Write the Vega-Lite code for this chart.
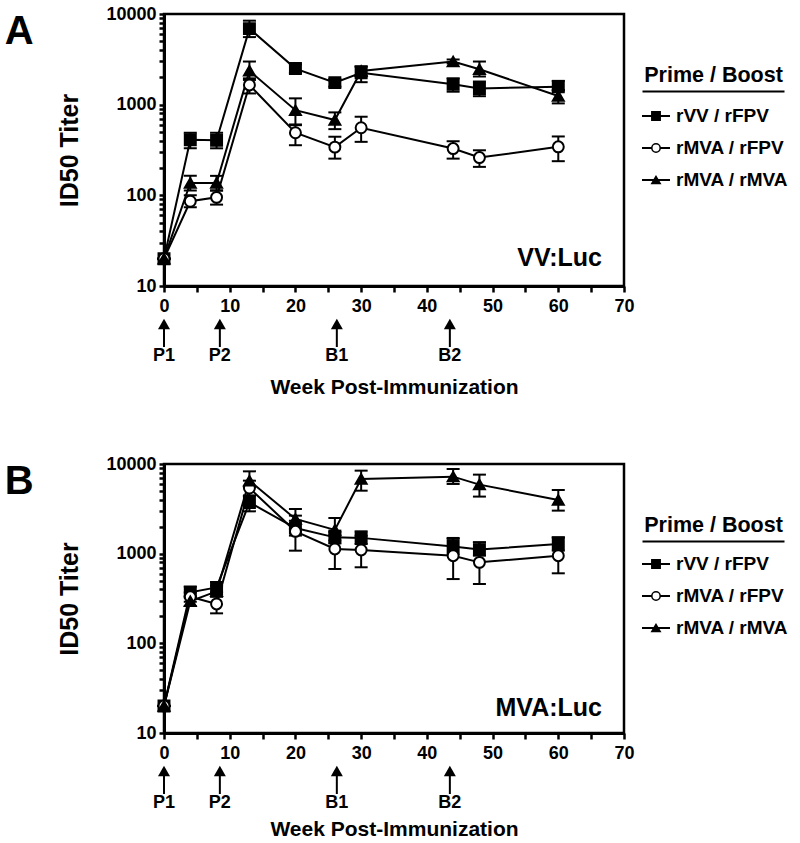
{
  "$schema": "https://vega.github.io/schema/vega-lite/v6.json",
  "background": "white",
  "padding": {"left": 4, "top": 3, "right": 0, "bottom": 0},
  "datasets": {
    "A": [
      {"series": "rVV / rFPV", "week": 0, "titer": 20, "lo": 20, "hi": 20},
      {"series": "rVV / rFPV", "week": 4, "titer": 410, "lo": 330, "hi": 490},
      {"series": "rVV / rFPV", "week": 8, "titer": 405, "lo": 330, "hi": 490},
      {"series": "rVV / rFPV", "week": 13, "titer": 6900, "lo": 5560, "hi": 8440},
      {"series": "rVV / rFPV", "week": 20, "titer": 2500, "lo": 2240, "hi": 2790},
      {"series": "rVV / rFPV", "week": 26, "titer": 1750, "lo": 1580, "hi": 1920},
      {"series": "rVV / rFPV", "week": 30, "titer": 2250, "lo": 1770, "hi": 2630},
      {"series": "rVV / rFPV", "week": 44, "titer": 1680, "lo": 1390, "hi": 1950},
      {"series": "rVV / rFPV", "week": 48, "titer": 1510, "lo": 1240, "hi": 1800},
      {"series": "rVV / rFPV", "week": 60, "titer": 1580, "lo": 1430, "hi": 1830},
      {"series": "rMVA / rFPV", "week": 0, "titer": 20, "lo": 20, "hi": 20},
      {"series": "rMVA / rFPV", "week": 4, "titer": 86, "lo": 74, "hi": 100},
      {"series": "rMVA / rFPV", "week": 8, "titer": 95, "lo": 79, "hi": 113},
      {"series": "rMVA / rFPV", "week": 13, "titer": 1650, "lo": 1330, "hi": 1950},
      {"series": "rMVA / rFPV", "week": 20, "titer": 490, "lo": 357, "hi": 605},
      {"series": "rMVA / rFPV", "week": 26, "titer": 340, "lo": 254, "hi": 443},
      {"series": "rMVA / rFPV", "week": 30, "titer": 556, "lo": 389, "hi": 736},
      {"series": "rMVA / rFPV", "week": 44, "titer": 328, "lo": 254, "hi": 395},
      {"series": "rMVA / rFPV", "week": 48, "titer": 261, "lo": 206, "hi": 314},
      {"series": "rMVA / rFPV", "week": 60, "titer": 343, "lo": 238, "hi": 446},
      {"series": "rMVA / rMVA", "week": 0, "titer": 20, "lo": 20, "hi": 20},
      {"series": "rMVA / rMVA", "week": 4, "titer": 137, "lo": 113, "hi": 164},
      {"series": "rMVA / rMVA", "week": 8, "titer": 137, "lo": 113, "hi": 164},
      {"series": "rMVA / rMVA", "week": 13, "titer": 2360, "lo": 1875, "hi": 2990},
      {"series": "rMVA / rMVA", "week": 20, "titer": 870, "lo": 594, "hi": 1174},
      {"series": "rMVA / rMVA", "week": 26, "titer": 677, "lo": 537, "hi": 822},
      {"series": "rMVA / rMVA", "week": 30, "titer": 2350, "lo": 2050, "hi": 2650},
      {"series": "rMVA / rMVA", "week": 44, "titer": 2990, "lo": 2850, "hi": 3150},
      {"series": "rMVA / rMVA", "week": 48, "titer": 2455, "lo": 2045, "hi": 2990},
      {"series": "rMVA / rMVA", "week": 60, "titer": 1245, "lo": 1033, "hi": 1450}
    ],
    "B": [
      {"series": "rVV / rFPV", "week": 0, "titer": 20, "lo": 20, "hi": 20},
      {"series": "rVV / rFPV", "week": 4, "titer": 370, "lo": 330, "hi": 430},
      {"series": "rVV / rFPV", "week": 8, "titer": 420, "lo": 370, "hi": 480},
      {"series": "rVV / rFPV", "week": 13, "titer": 3730, "lo": 2965, "hi": 4440},
      {"series": "rVV / rFPV", "week": 20, "titer": 1930, "lo": 1590, "hi": 2330},
      {"series": "rVV / rFPV", "week": 26, "titer": 1520, "lo": 1300, "hi": 1730},
      {"series": "rVV / rFPV", "week": 30, "titer": 1500, "lo": 1280, "hi": 1775},
      {"series": "rVV / rFPV", "week": 44, "titer": 1200, "lo": 990, "hi": 1460},
      {"series": "rVV / rFPV", "week": 48, "titer": 1110, "lo": 950, "hi": 1340},
      {"series": "rVV / rFPV", "week": 60, "titer": 1280, "lo": 1080, "hi": 1520},
      {"series": "rMVA / rFPV", "week": 0, "titer": 20, "lo": 20, "hi": 20},
      {"series": "rMVA / rFPV", "week": 4, "titer": 330, "lo": 290, "hi": 370},
      {"series": "rMVA / rFPV", "week": 8, "titer": 275, "lo": 216, "hi": 349},
      {"series": "rMVA / rFPV", "week": 13, "titer": 5400, "lo": 4440, "hi": 6520},
      {"series": "rMVA / rFPV", "week": 20, "titer": 1775, "lo": 1080, "hi": 2655},
      {"series": "rMVA / rFPV", "week": 26, "titer": 1130, "lo": 675, "hi": 1807},
      {"series": "rMVA / rFPV", "week": 30, "titer": 1100, "lo": 705, "hi": 1585},
      {"series": "rMVA / rFPV", "week": 44, "titer": 950, "lo": 521, "hi": 1497},
      {"series": "rMVA / rFPV", "week": 48, "titer": 800, "lo": 459, "hi": 1337},
      {"series": "rMVA / rFPV", "week": 60, "titer": 950, "lo": 604, "hi": 1520},
      {"series": "rMVA / rMVA", "week": 0, "titer": 20, "lo": 20, "hi": 20},
      {"series": "rMVA / rMVA", "week": 4, "titer": 295, "lo": 260, "hi": 335},
      {"series": "rMVA / rMVA", "week": 8, "titer": 380, "lo": 330, "hi": 440},
      {"series": "rMVA / rMVA", "week": 13, "titer": 6520, "lo": 5500, "hi": 8280},
      {"series": "rMVA / rMVA", "week": 20, "titer": 2440, "lo": 1885, "hi": 3150},
      {"series": "rMVA / rMVA", "week": 26, "titer": 1840, "lo": 1400, "hi": 2500},
      {"series": "rMVA / rMVA", "week": 30, "titer": 6810, "lo": 5040, "hi": 8430},
      {"series": "rMVA / rMVA", "week": 44, "titer": 7230, "lo": 5990, "hi": 8800},
      {"series": "rMVA / rMVA", "week": 48, "titer": 5890, "lo": 4330, "hi": 7610},
      {"series": "rMVA / rMVA", "week": 60, "titer": 3970, "lo": 3020, "hi": 5130}
    ],
    "arrows": [
      {"label": "P1", "week": 0},
      {"label": "P2", "week": 8.5},
      {"label": "B1", "week": 26.3},
      {"label": "B2", "week": 43.5}
    ],
    "legend": [
      {"series": "rVV / rFPV"},
      {"series": "rMVA / rFPV"},
      {"series": "rMVA / rMVA"}
    ]
  },
  "vconcat": [
    {
      "title": {"text": "A", "orient": "left", "anchor": "end", "angle": 0, "align": "left", "baseline": "top", "offset": 23, "dy": 8},
      "spacing": 5,
      "hconcat": [
        {
          "spacing": 1,
          "vconcat": [
            {
              "width": 460,
              "height": 272,
              "title": {"text": "VV:Luc", "orient": "bottom", "anchor": "end", "frame": "group", "offset": -69, "dx": -22, "fontSize": 25, "fontWeight": "bold", "baseline": "top", "color": "black"},
              "data": {"name": "A"},
              "encoding": {
                "x": {"field": "week", "type": "quantitative", "scale": {"domain": [0, 70], "nice": false},
                  "axis": {"title": null, "values": [0, 5, 10, 15, 20, 25, 30, 35, 40, 45, 50, 55, 60, 65, 70], "labelExpr": "datum.value % 10 === 0 ? datum.label : ''", "tickSize": 6, "labelPadding": 5, "labelFlush": false, "labelOverlap": false}}
              },
              "layer": [
                {"mark": {"type": "line", "color": "black", "strokeWidth": 2},
                  "encoding": {
                    "y": {"field": "titer", "type": "quantitative", "title": "ID50 Titer", "scale": {"type": "log", "domain": [10, 10000], "nice": false},
                      "axis": {"title": "ID50 Titer", "titleFontSize": 25, "titlePadding": 23, "values": [10, 20, 30, 40, 50, 60, 70, 80, 90, 100, 200, 300, 400, 500, 600, 700, 800, 900, 1000, 2000, 3000, 4000, 5000, 6000, 7000, 8000, 9000, 10000], "labelExpr": "indexof([10, 100, 1000, 10000], datum.value) >= 0 ? format(datum.value, 'd') : ''", "tickSize": 5, "labelPadding": 3, "labelOverlap": false, "labelFlush": false}},
                    "detail": {"field": "series"}
                  }},
                {"mark": {"type": "rule", "color": "black", "strokeWidth": 2},
                  "encoding": {"y": {"field": "lo", "type": "quantitative", "title": "ID50 Titer"}, "y2": {"field": "hi"}}},
                {"mark": {"type": "tick", "orient": "horizontal", "color": "black", "size": 13, "thickness": 2, "opacity": 1},
                  "encoding": {"y": {"field": "lo", "type": "quantitative", "title": "ID50 Titer"}}},
                {"mark": {"type": "tick", "orient": "horizontal", "color": "black", "size": 13, "thickness": 2, "opacity": 1},
                  "encoding": {"y": {"field": "hi", "type": "quantitative", "title": "ID50 Titer"}}},
                {"mark": {"type": "point", "stroke": "black", "strokeWidth": 2, "opacity": 1, "size": 120},
                  "encoding": {
                    "y": {"field": "titer", "type": "quantitative", "title": "ID50 Titer"},
                    "shape": {"field": "series", "type": "nominal", "scale": {"domain": ["rVV / rFPV", "rMVA / rFPV", "rMVA / rMVA"], "range": ["square", "circle", "triangle-up"]}, "legend": null},
                    "fill": {"field": "series", "type": "nominal", "scale": {"domain": ["rVV / rFPV", "rMVA / rFPV", "rMVA / rMVA"], "range": ["black", "white", "black"]}, "legend": null}
                  }}
              ]
            },
            {
              "width": 460,
              "height": 45,
              "view": {"stroke": null},
              "data": {"name": "arrows"},
              "encoding": {
                "x": {"field": "week", "type": "quantitative", "scale": {"domain": [0, 70], "nice": false},
                  "axis": {"title": "Week Post-Immunization", "labels": false, "ticks": false, "domain": false, "titlePadding": 13}}
              },
              "layer": [
                {"mark": {"type": "rule", "color": "black", "strokeWidth": 2},
                  "encoding": {"y": {"datum": 10, "type": "quantitative", "scale": {"domain": [0, 45], "reverse": true, "nice": false, "zero": false}, "axis": null}, "y2": {"datum": 29}}},
                {"mark": {"type": "point", "shape": "triangle-up", "size": 144, "filled": true, "color": "black", "opacity": 1},
                  "encoding": {"y": {"datum": 6, "type": "quantitative"}}},
                {"mark": {"type": "text", "fontSize": 18, "fontWeight": "bold", "baseline": "alphabetic", "color": "black"},
                  "encoding": {"y": {"datum": 42.5, "type": "quantitative"}, "text": {"field": "label"}}}
              ]
            }
          ]
        },
        {
          "width": 142,
          "height": 180,
          "view": {"stroke": null},
          "data": {"name": "legend"},
          "encoding": {
            "y": {"field": "series", "type": "nominal", "scale": {"type": "point", "padding": 0, "domain": ["rVV / rFPV", "rMVA / rFPV", "rMVA / rMVA"], "range": [102, 166]}, "axis": null}
          },
          "layer": [
            {"mark": {"type": "rule", "color": "black", "strokeWidth": 2},
              "encoding": {"x": {"datum": 0, "type": "quantitative", "scale": {"domain": [0, 14.2], "nice": false, "zero": false},
                "axis": {"orient": "top", "offset": -77, "title": "Prime / Boost", "titleFontSize": 21.5, "titlePadding": 5, "labels": false, "ticks": false, "domain": true, "domainWidth": 2}}, "x2": {"datum": 2.8}}},
            {"mark": {"type": "point", "stroke": "black", "strokeWidth": 1.5, "opacity": 1, "size": 70},
              "encoding": {
                "x": {"datum": 1.4, "type": "quantitative"},
                "shape": {"field": "series", "type": "nominal", "scale": {"domain": ["rVV / rFPV", "rMVA / rFPV", "rMVA / rMVA"], "range": ["square", "circle", "triangle-up"]}, "legend": null},
                "fill": {"field": "series", "type": "nominal", "scale": {"domain": ["rVV / rFPV", "rMVA / rFPV", "rMVA / rMVA"], "range": ["black", "white", "black"]}, "legend": null}
              }},
            {"mark": {"type": "text", "align": "left", "baseline": "middle", "fontSize": 19, "fontWeight": "bold", "color": "black"},
              "encoding": {"x": {"datum": 3.4, "type": "quantitative"}, "text": {"field": "series"}}}
          ]
        }
      ]
    },
    {
      "title": {"text": "B", "orient": "left", "anchor": "end", "angle": 0, "align": "left", "baseline": "top", "offset": 23, "dy": 8},
      "spacing": 5,
      "hconcat": [
        {
          "spacing": 1,
          "vconcat": [
            {
              "width": 460,
              "height": 269,
              "title": {"text": "MVA:Luc", "orient": "bottom", "anchor": "end", "frame": "group", "offset": -66, "dx": -22, "fontSize": 25, "fontWeight": "bold", "baseline": "top", "color": "black"},
              "data": {"name": "B"},
              "encoding": {
                "x": {"field": "week", "type": "quantitative", "scale": {"domain": [0, 70], "nice": false},
                  "axis": {"title": null, "values": [0, 5, 10, 15, 20, 25, 30, 35, 40, 45, 50, 55, 60, 65, 70], "labelExpr": "datum.value % 10 === 0 ? datum.label : ''", "tickSize": 6, "labelPadding": 5, "labelFlush": false, "labelOverlap": false}}
              },
              "layer": [
                {"mark": {"type": "line", "color": "black", "strokeWidth": 2},
                  "encoding": {
                    "y": {"field": "titer", "type": "quantitative", "title": "ID50 Titer", "scale": {"type": "log", "domain": [10, 10000], "nice": false},
                      "axis": {"title": "ID50 Titer", "titleFontSize": 25, "titlePadding": 23, "values": [10, 20, 30, 40, 50, 60, 70, 80, 90, 100, 200, 300, 400, 500, 600, 700, 800, 900, 1000, 2000, 3000, 4000, 5000, 6000, 7000, 8000, 9000, 10000], "labelExpr": "indexof([10, 100, 1000, 10000], datum.value) >= 0 ? format(datum.value, 'd') : ''", "tickSize": 5, "labelPadding": 3, "labelOverlap": false, "labelFlush": false}},
                    "detail": {"field": "series"}
                  }},
                {"mark": {"type": "rule", "color": "black", "strokeWidth": 2},
                  "encoding": {"y": {"field": "lo", "type": "quantitative", "title": "ID50 Titer"}, "y2": {"field": "hi"}}},
                {"mark": {"type": "tick", "orient": "horizontal", "color": "black", "size": 13, "thickness": 2, "opacity": 1},
                  "encoding": {"y": {"field": "lo", "type": "quantitative", "title": "ID50 Titer"}}},
                {"mark": {"type": "tick", "orient": "horizontal", "color": "black", "size": 13, "thickness": 2, "opacity": 1},
                  "encoding": {"y": {"field": "hi", "type": "quantitative", "title": "ID50 Titer"}}},
                {"mark": {"type": "point", "stroke": "black", "strokeWidth": 2, "opacity": 1, "size": 120},
                  "encoding": {
                    "y": {"field": "titer", "type": "quantitative", "title": "ID50 Titer"},
                    "shape": {"field": "series", "type": "nominal", "scale": {"domain": ["rVV / rFPV", "rMVA / rFPV", "rMVA / rMVA"], "range": ["square", "circle", "triangle-up"]}, "legend": null},
                    "fill": {"field": "series", "type": "nominal", "scale": {"domain": ["rVV / rFPV", "rMVA / rFPV", "rMVA / rMVA"], "range": ["black", "white", "black"]}, "legend": null}
                  }}
              ]
            },
            {
              "width": 460,
              "height": 45,
              "view": {"stroke": null},
              "data": {"name": "arrows"},
              "encoding": {
                "x": {"field": "week", "type": "quantitative", "scale": {"domain": [0, 70], "nice": false},
                  "axis": {"title": "Week Post-Immunization", "labels": false, "ticks": false, "domain": false, "titlePadding": 8}}
              },
              "layer": [
                {"mark": {"type": "rule", "color": "black", "strokeWidth": 2},
                  "encoding": {"y": {"datum": 10, "type": "quantitative", "scale": {"domain": [0, 45], "reverse": true, "nice": false, "zero": false}, "axis": null}, "y2": {"datum": 29}}},
                {"mark": {"type": "point", "shape": "triangle-up", "size": 144, "filled": true, "color": "black", "opacity": 1},
                  "encoding": {"y": {"datum": 6, "type": "quantitative"}}},
                {"mark": {"type": "text", "fontSize": 18, "fontWeight": "bold", "baseline": "alphabetic", "color": "black"},
                  "encoding": {"y": {"datum": 42.5, "type": "quantitative"}, "text": {"field": "label"}}}
              ]
            }
          ]
        },
        {
          "width": 142,
          "height": 180,
          "view": {"stroke": null},
          "data": {"name": "legend"},
          "encoding": {
            "y": {"field": "series", "type": "nominal", "scale": {"type": "point", "padding": 0, "domain": ["rVV / rFPV", "rMVA / rFPV", "rMVA / rMVA"], "range": [100, 164]}, "axis": null}
          },
          "layer": [
            {"mark": {"type": "rule", "color": "black", "strokeWidth": 2},
              "encoding": {"x": {"datum": 0, "type": "quantitative", "scale": {"domain": [0, 14.2], "nice": false, "zero": false},
                "axis": {"orient": "top", "offset": -77, "title": "Prime / Boost", "titleFontSize": 21.5, "titlePadding": 5, "labels": false, "ticks": false, "domain": true, "domainWidth": 2}}, "x2": {"datum": 2.8}}},
            {"mark": {"type": "point", "stroke": "black", "strokeWidth": 1.5, "opacity": 1, "size": 70},
              "encoding": {
                "x": {"datum": 1.4, "type": "quantitative"},
                "shape": {"field": "series", "type": "nominal", "scale": {"domain": ["rVV / rFPV", "rMVA / rFPV", "rMVA / rMVA"], "range": ["square", "circle", "triangle-up"]}, "legend": null},
                "fill": {"field": "series", "type": "nominal", "scale": {"domain": ["rVV / rFPV", "rMVA / rFPV", "rMVA / rMVA"], "range": ["black", "white", "black"]}, "legend": null}
              }},
            {"mark": {"type": "text", "align": "left", "baseline": "middle", "fontSize": 19, "fontWeight": "bold", "color": "black"},
              "encoding": {"x": {"datum": 3.4, "type": "quantitative"}, "text": {"field": "series"}}}
          ]
        }
      ]
    }
  ],
  "spacing": 56,
  "config": {
    "font": "Liberation Sans",
    "view": {"stroke": "black", "strokeWidth": 2.5},
    "axis": {"grid": false, "domainColor": "black", "domainWidth": 3, "tickColor": "black", "tickWidth": 2.5, "labelColor": "black", "labelFont": "Liberation Sans", "labelFontWeight": "bold", "labelFontSize": 18, "titleColor": "black", "titleFont": "Liberation Sans", "titleFontWeight": "bold", "titleFontSize": 21},
    "title": {"fontSize": 40, "fontWeight": "bold", "color": "black", "font": "Liberation Sans"}
  }
}
